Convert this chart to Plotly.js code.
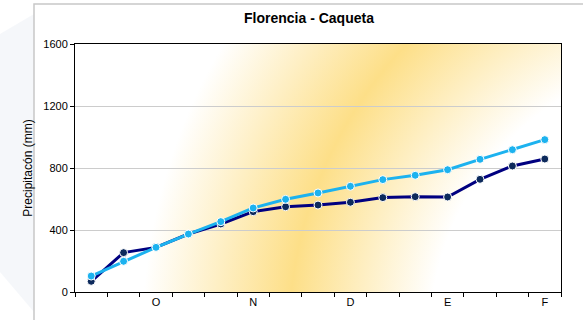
<!DOCTYPE html>
<html>
<head>
<meta charset="utf-8">
<script src="https://cdn.plot.ly/plotly-3.0.1.min.js"></script>
<style>html,body{margin:0;padding:0;background:#fff;}#chart{width:583px;height:320px;}</style>
</head>
<body>
<div id="chart"></div>
<script>
// Dekads from mid-September to early February; month initial at first dekad
const categories = ["S2","S3","O1","O2","O3","N1","N2","N3","D1","D2","D3","E1","E2","E3","F1"];
const tickLabels = ["", "", "O", "", "", "N", "", "", "D", "", "", "E", "", "", "F"];
const seriesDark = [69, 254, 288, 374, 439, 518, 550, 561, 579, 609, 615, 613, 727, 813, 858];
const seriesLight = [103, 198, 288, 374, 454, 542, 598, 639, 682, 725, 753, 789, 856, 918, 983];
const yTicks = [0, 400, 800, 1200, 1600];

const idx = categories.map((c, i) => i);
const labelIdx = idx.filter(i => tickLabels[i] !== "");
const boundaries = idx.map(i => i - 0.5).concat([categories.length - 0.5]);

// background radial gradient for the plot area
const svg = '<svg xmlns="http://www.w3.org/2000/svg" width="486" height="248" viewBox="0 0 486 248" preserveAspectRatio="none">' +
  '<defs><radialGradient id="g" gradientUnits="userSpaceOnUse" cx="637" cy="293" r="600">' +
  '<stop offset="0" stop-color="#ffffff"/>' +
  '<stop offset="0.47" stop-color="#ffffff"/>' +
  '<stop offset="0.705" stop-color="#fddf88"/>' +
  '<stop offset="0.95" stop-color="#ffffff"/>' +
  '<stop offset="1" stop-color="#ffffff"/>' +
  '</radialGradient></defs><rect width="486" height="248" fill="url(#g)"/></svg>';
const bgSrc = 'data:image/svg+xml;charset=utf-8,' + encodeURIComponent(svg);

const W = 583, H = 320;
const traces = [
  {
    x: idx, y: seriesDark, type: 'scatter', mode: 'lines+markers', name: 'Serie 1',
    line: {color: '#000080', width: 3},
    marker: {color: '#0d2a5c', size: 8, line: {color: '#ffffff', width: 1}}
  },
  {
    x: idx, y: seriesLight, type: 'scatter', mode: 'lines+markers', name: 'Serie 2',
    line: {color: '#1cb2ef', width: 3},
    marker: {color: '#1cb2ef', size: 8, line: {color: '#ffffff', width: 1}}
  }
];

const layout = {
  width: W, height: H,
  margin: {l: 75, r: 22, t: 44, b: 28, pad: 0},
  paper_bgcolor: '#ffffff',
  plot_bgcolor: 'rgba(0,0,0,0)',
  showlegend: false,
  font: {family: 'Liberation Sans, Arial, sans-serif', size: 11, color: '#000'},
  title: {
    text: '<b>Florencia - Caqueta</b>',
    font: {family: 'Liberation Sans, Arial, sans-serif', size: 14, color: '#000'},
    x: 309 / W, xanchor: 'center', y: 1 - 18 / H, yanchor: 'middle'
  },
  xaxis: {
    range: [-0.5, categories.length - 0.5],
    tickmode: 'array', tickvals: labelIdx, ticktext: labelIdx.map(i => tickLabels[i]),
    ticks: '', showgrid: false, zeroline: false,
    showline: true, linecolor: '#000', linewidth: 1, mirror: true,
    tickfont: {size: 11},
    minor: {tickmode: 'array', tickvals: boundaries, ticks: 'outside', ticklen: 4, tickcolor: '#000', tickwidth: 1, showgrid: false}
  },
  yaxis: {
    range: [0, 1600],
    tickmode: 'array', tickvals: yTicks, ticktext: yTicks.map(String),
    ticks: 'outside', ticklen: 4, tickcolor: '#000',
    showgrid: true, gridcolor: '#cccccc', gridwidth: 1, zeroline: false,
    showline: true, linecolor: '#000', linewidth: 1, mirror: true,
    tickfont: {size: 11},
    title: {text: 'Precipitacón (mm)', font: {size: 12}, standoff: 8}
  },
  images: [{
    source: bgSrc, xref: 'paper', yref: 'paper', x: 0, y: 1, sizex: 1, sizey: 1,
    xanchor: 'left', yanchor: 'top', sizing: 'stretch', layer: 'below'
  }],
  shapes: [
    {type: 'path', xref: 'paper', yref: 'paper', layer: 'below',
     path: 'M ' + (-75/486) + ' ' + (1 + 10/248) + ' L ' + (-41/486) + ' ' + (1 + 30/248) + ' L ' + (-41/486) + ' ' + (-20/248) + ' L ' + (-75/486) + ' ' + (20/248) + ' Z',
     fillcolor: 'rgba(232,237,245,0.45)', line: {width: 0}},
    {type: 'rect', xref: 'paper', yref: 'paper', layer: 'below',
     x0: -41/486, x1: 1 + 40/486, y0: -40/248, y1: 1 + 40/248,
     fillcolor: 'rgba(0,0,0,0)', line: {color: '#c8c8c8', width: 1.5}}
  ]
};

Plotly.newPlot('chart', traces, layout, {displayModeBar: false, staticPlot: true});
</script>
</body>
</html>
